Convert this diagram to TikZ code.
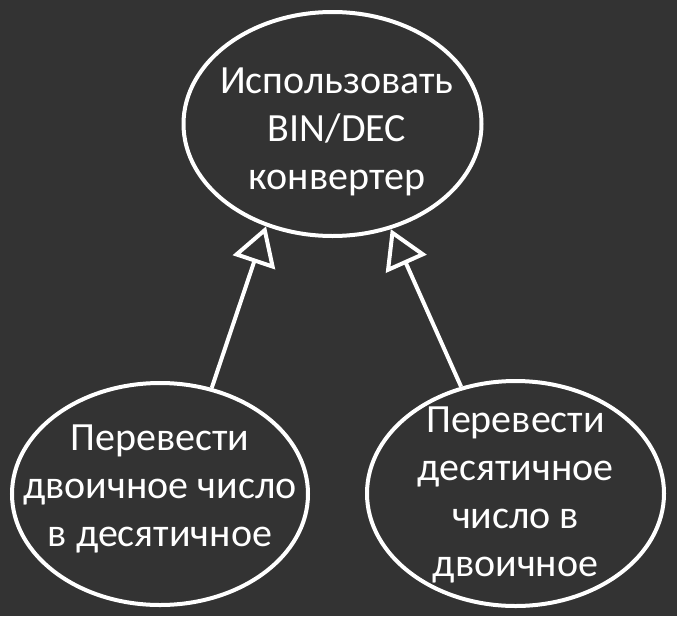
\documentclass[tikz,border=0pt]{standalone}
\usepackage{fontspec}
\setmainfont{Carlito}
\usetikzlibrary{shapes.geometric,arrows.meta}
\definecolor{bg}{HTML}{333333}
\newcommand{\ctext}[3][0pt]{\smash{\raisebox{#2}{\makebox[0pt]{\hspace*{#1}\hspace*{#1}\makebox[0pt]{\begin{tabular}[t]{@{}c@{}}#3\end{tabular}}}}}}
\begin{document}
\begin{tikzpicture}[x=1pt,y=-1pt,
  uc/.style={ellipse, draw=white, fill=bg, line width=4pt, inner sep=0pt,
    text=white, font=\fontsize{40}{48}\selectfont},
  gen/.style={draw=white, line width=4pt,
    -{Triangle[open,length=38pt,width=44pt]}}]
\fill[bg] (0,0) rectangle (677,616);
\useasboundingbox (0,0) rectangle (677,616);
\node[uc, minimum width=298pt, minimum height=224pt] (top) at (332.5,124)
  {\ctext[4.5pt]{31pt}{Использовать\\BIN/DEC\\конвертер}};
\node[uc, minimum width=296pt, minimum height=222pt] (bl) at (160,494)
  {\ctext{44pt}{Перевести\\двоичное число\\в десятичное}};
\node[uc, minimum width=297pt, minimum height=225pt] (br) at (515.5,493.5)
  {\ctext{61.5pt}{Перевести\\десятичное\\число в\\двоичное}};
\draw[gen] (bl.64) -- (top.237);
\draw[gen] (br.117) -- (top.299.5);
\end{tikzpicture}
\end{document}
